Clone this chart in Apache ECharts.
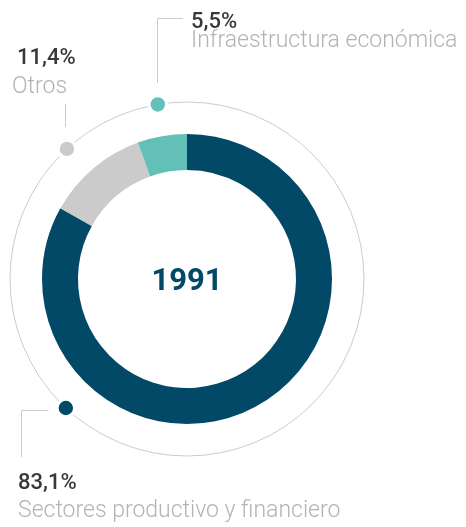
<!DOCTYPE html>
<html>
    <head>
        <meta charset="utf-8">
        <title></title>
        <script src="https://cdn.jsdelivr.net/npm/echarts@6/dist/echarts.min.js"></script>
        <style>
            body { margin: 0; background: #fff; }
        </style>
    </head>
    <body>
    <div id="main" style="width: 466px;height:527px;"></div>
    <script type="text/javascript">
        // datos
        var categorias = ['Sectores productivo y financiero', 'Otros', 'Infraestructura económica']
        var valores = [83.1, 11.4, 5.5]
        var etiquetas = ['83,1%', '11,4%', '5,5%']
        var colores = ['#024968', '#cbcbcb', '#62c0b9']
        var anio = '1991'

        var myChart = echarts.init(document.getElementById('main'));

        var cx = 187, cy = 279
        var rAnillo = 177
        // angulo de cada punto, grados desde arriba (antihorario)
        var angPunto = [136.8, 42.7, 9.5]

        var punto = function(i){
            var a = angPunto[i] * Math.PI / 180
            return [cx - rAnillo * Math.sin(a), cy - rAnillo * Math.cos(a)]
        }

        var lineaGris = {stroke: '#cccccc', lineWidth: 1, fill: null}

        var graficos = []
        // anillo exterior
        graficos.push({type: 'circle', shape: {cx: cx, cy: cy, r: rAnillo}, style: lineaGris, silent: true, z: 1})
        // lineas guia
        graficos.push({type: 'polyline', shape: {points: [[157.5, 83], [157.5, 18.5], [183, 18.5]]}, style: lineaGris, z: 1})
        graficos.push({type: 'polyline', shape: {points: [[65.5, 104], [65.5, 127]]}, style: lineaGris, z: 1})
        graficos.push({type: 'polyline', shape: {points: [[48, 410.5], [21.5, 410.5], [21.5, 457]]}, style: lineaGris, z: 1})
        // puntos
        for (var i = 0; i < valores.length; i++) {
            var p = punto(i)
            graficos.push({type: 'circle', shape: {cx: p[0], cy: p[1], r: 8.7}, style: {fill: colores[i], stroke: '#fff', lineWidth: 3}, z: 5})
        }
        // textos: [x, base porcentaje, x nombre, base nombre]
        var posTexto = [[18, 488, 18, 518], [17, 63, 12, 94], [191, 27, 191, 48]]
        for (var i = 0; i < valores.length; i++) {
            var t = posTexto[i]
            graficos.push({type: 'text', x: t[0], y: t[1] + 6, style: {text: etiquetas[i], fill: '#383838', font: '500 22px Roboto', textAlign: 'left', textVerticalAlign: 'bottom'}, z: 5})
            graficos.push({type: 'text', x: t[2], y: t[3] + 5, style: {text: categorias[i], fill: '#b3b3b3', font: '300 23px Roboto', textAlign: 'left', textVerticalAlign: 'bottom'}, z: 5})
        }
        // año central
        graficos.push({type: 'text', x: cx, y: 282, style: {text: anio, fill: '#024968', font: 'bold 31px Roboto', textAlign: 'center', textVerticalAlign: 'middle'}, z: 5})

        var datos = []
        for (var i = 0; i < valores.length; i++) {
            datos.push({name: categorias[i], value: valores[i], itemStyle: {color: colores[i]}})
        }

        var option = {
            animation: false,
            backgroundColor: '#fff',
            series: [{
                type: 'pie',
                center: [cx, cy],
                radius: [109, 145],
                startAngle: 90,
                clockwise: true,
                silent: true,
                label: {show: false},
                labelLine: {show: false},
                itemStyle: {borderWidth: 0},
                data: datos
            }],
            graphic: graficos
        };
        myChart.setOption(option)
    </script>
    </body>
</html>
